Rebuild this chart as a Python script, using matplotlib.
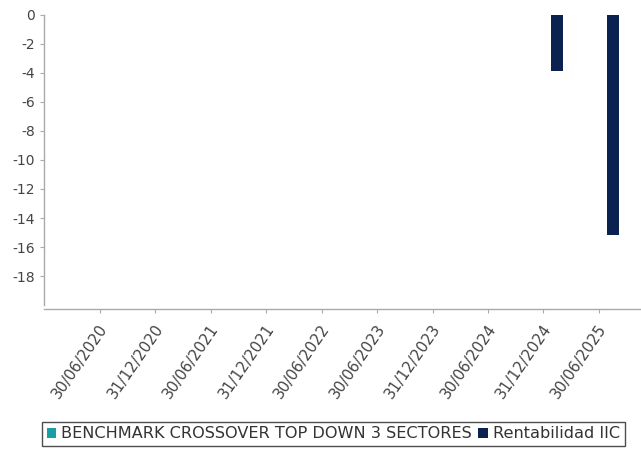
import numpy as np
import matplotlib
matplotlib.use("Agg")
import matplotlib.pyplot as plt
from matplotlib.patches import Patch
from matplotlib.transforms import ScaledTranslation

categories = ["30/06/2020", "31/12/2020", "30/06/2021", "31/12/2021", "30/06/2022",
              "30/06/2023", "31/12/2023", "30/06/2024", "31/12/2024", "30/06/2025"]
benchmark = [np.nan] * 10
rentabilidad = [np.nan, np.nan, np.nan, np.nan, np.nan, np.nan, np.nan, np.nan, -3.85, -15.15]
yticks = [0, -2, -4, -6, -8, -10, -12, -14, -16, -18]

c_bench = "#1a9ea3"
c_rent = "#0b2150"

fig = plt.figure(figsize=(6.41, 4.5), dpi=100)
ax = fig.add_axes([0.0686, 0.322, 0.9314, 0.645])

x = np.arange(len(categories))
w = 0.217
ax.bar(x + 0.25 - w, benchmark, width=w, color=c_bench)
ax.bar(x + 0.25, rentabilidad, width=w, color=c_rent)

ax.set_ylim(-20, 0)
ax.set_xlim(-1.01, 9.76)
ax.set_yticks(yticks)
ax.set_yticklabels([str(v) for v in yticks])
ax.set_xticks(x)

for s in ["top", "right"]:
    ax.spines[s].set_visible(False)
for s in ["left", "bottom"]:
    ax.spines[s].set_color("#aaaaaa")
    ax.spines[s].set_linewidth(1.0)
ax.spines["bottom"].set_position(("outward", 3))
ax.tick_params(axis="both", colors="#aaaaaa", labelcolor="#444444", labelsize=10,
               length=3, width=0.8)
ax.tick_params(axis="x", pad=9, labelsize=10.8)
ax.set_xticklabels(categories)

offset = ScaledTranslation(3.4 / 72, 0, fig.dpi_scale_trans)
for lab in ax.get_xticklabels():
    lab.set_rotation(55.5)
    lab.set_ha("right")
    lab.set_va("center")
    lab.set_rotation_mode("anchor")
    lab.set_transform(lab.get_transform() + offset)

handles = [Patch(facecolor=c_bench, label="BENCHMARK CROSSOVER TOP DOWN 3 SECTORES"),
           Patch(facecolor=c_rent, label="Rentabilidad IIC")]
leg = fig.legend(handles=handles, loc="center", bbox_to_anchor=(0.52, 0.0356), ncol=2,
                 frameon=True, fancybox=False, fontsize=11.6, handlelength=0.6,
                 handleheight=0.6, handletextpad=0.3, columnspacing=0.4,
                 borderpad=0.3, labelcolor="#333333")
leg.get_frame().set_edgecolor("#222222")
leg.get_frame().set_linewidth(1.0)

fig.savefig("out.png", dpi=100)
